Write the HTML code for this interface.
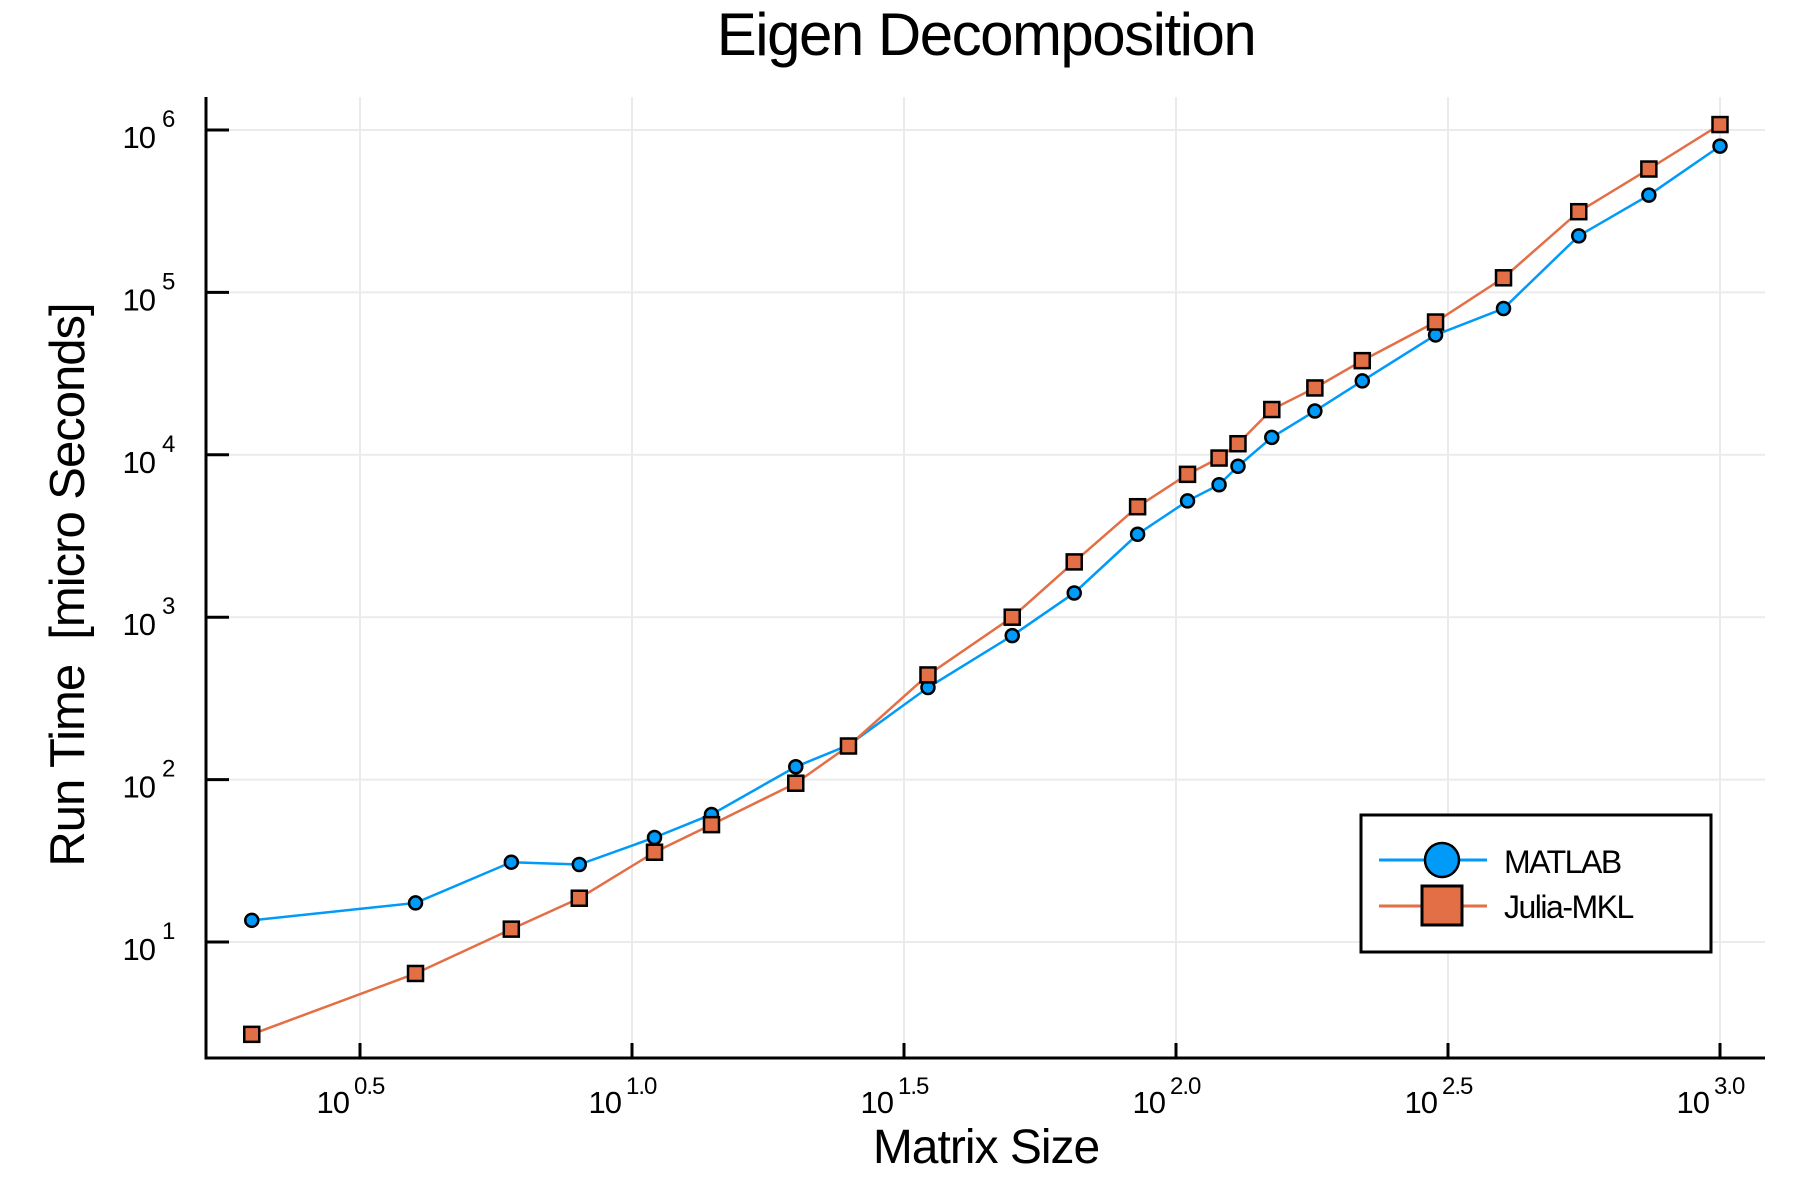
<!DOCTYPE html>
<html><head><meta charset="utf-8"><style>
body{margin:0;background:#fff}
svg{display:block;font-family:"Liberation Sans",Arial,sans-serif}
</style></head><body>
<svg id="chart" width="1800" height="1200" viewBox="0 0 1800 1200" xmlns="http://www.w3.org/2000/svg">
<text x="986" y="55" font-size="60" text-anchor="middle" letter-spacing="-1.5">Eigen Decomposition</text>
<text x="986" y="1163" font-size="48" text-anchor="middle" letter-spacing="-1">Matrix Size</text>
<text transform="translate(84,585) rotate(-90)" font-size="49" text-anchor="middle" letter-spacing="-1" xml:space="preserve">Run Time  [micro Seconds]</text>
<g id="grid"></g>
<g id="axes"></g>
<g id="series"></g>
<g id="legend">
<rect x="1361" y="815" width="350" height="137" fill="#fff" stroke="#000" stroke-width="3"/>
<g>
<line x1="1379" y1="860" x2="1487" y2="860" stroke="#009af9" stroke-width="3"/>
<circle cx="1442" cy="860" r="17" fill="#009af9" stroke="#000" stroke-width="2.5"/>
<text x="1504" y="873" font-size="32" letter-spacing="-1.5">MATLAB</text></g>
<g>
<line x1="1379" y1="906" x2="1487" y2="906" stroke="#e26f46" stroke-width="3"/>
<rect x="1422" y="886" width="40" height="39" fill="#e26f46" stroke="#000" stroke-width="3"/>
<text x="1504" y="918" font-size="32" letter-spacing="-1.5">Julia-MKL</text></g>
</g>
</svg>
<script>
const sizes=[2,4,6,8,11,14,20,25,35,50,65,85,105,120,130,150,180,220,300,400,550,740,1000];
const matlab=[13.6,17.4,31,30,44,61,120,163,369,770,1410,3240,5200,6540,8500,12800,18600,28500,54700,79600,223000,397000,796000];
const julia=[2.7,6.4,12,18.6,35.7,52.8,95,161,441,1000,2190,4790,7580,9550,11700,19000,25800,38000,65700,123000,314000,575000,1080000];
const xTicks=["0.5","1.0","1.5","2.0","2.5","3.0"];
const yTicks=["1","2","3","4","5","6"];
const NS="http://www.w3.org/2000/svg";
const L=206,R=1765,T=97,B=1058;
function xs(v){return 360+(Math.log10(v)-0.5)*544;}
function xl(l){return 360+(l-0.5)*544;}
function ys(v){return 130+(6-Math.log10(v))*162.4;}
function yl(l){return 130+(6-l)*162.4;}
function mk(tag,at,parent){const e=document.createElementNS(NS,tag);for(const k in at)e.setAttribute(k,at[k]);parent.appendChild(e);return e;}
const grid=document.getElementById('grid'),axes=document.getElementById('axes'),ser=document.getElementById('series');
xTicks.forEach(t=>{const x=xl(parseFloat(t));
 const g=mk('line',{x1:x,x2:x,y1:T,y2:B,stroke:'#ebebeb','stroke-width':2},grid);
 
 mk('line',{x1:x,x2:x,y1:B,y2:B-15,stroke:'#000','stroke-width':3},axes);
 const tx=mk('text',{x:x-11,y:1113,'font-size':31,'text-anchor':'end','letter-spacing':-1},axes);tx.textContent='10';
 
 const sp=mk('text',{x:x-6,y:1094,'font-size':24,'letter-spacing':-1},axes);sp.textContent=t;
});
yTicks.forEach(t=>{const y=yl(parseFloat(t));
 const g=mk('line',{x1:L,x2:R,y1:y,y2:y,stroke:'#ebebeb','stroke-width':2},grid);
 
 mk('line',{x1:L,x2:L+23,y1:y,y2:y,stroke:'#000','stroke-width':3},axes);
 const tx=mk('text',{x:155,y:y+18,'font-size':31,'text-anchor':'end','letter-spacing':-1},axes);tx.textContent='10';
 
 const sp=mk('text',{x:162,y:y-3,'font-size':24},axes);sp.textContent=t;
});
mk('line',{x1:L,x2:L,y1:T,y2:B+1.5,stroke:'#000','stroke-width':3},axes);
mk('line',{x1:L-1.5,x2:R,y1:B,y2:B,stroke:'#000','stroke-width':3},axes);
function draw(vals,color,shape,name){
 const pts=sizes.map((s,i)=>xs(s)+','+ys(vals[i])).join(' ');
 const pl=mk('polyline',{points:pts,fill:'none',stroke:color,'stroke-width':2.5},ser);
 
 sizes.forEach((s,i)=>{const x=xs(s),y=ys(vals[i]);let m;
  if(shape==='c')m=mk('circle',{cx:x,cy:y,r:6.5,fill:color,stroke:'#000','stroke-width':2.5},ser);
  else m=mk('rect',{x:x-7.5,y:y-7.5,width:15,height:15,fill:color,stroke:'#000','stroke-width':2.5},ser);
  });
}
draw(matlab,'#009af9','c','matlab');
draw(julia,'#e26f46','s','julia-mkl');
</script>
</body></html>
